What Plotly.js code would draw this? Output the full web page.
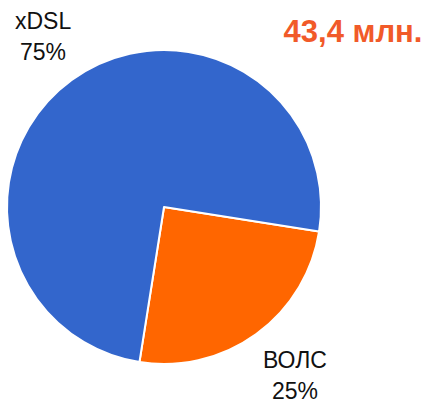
<!DOCTYPE html>
<html>
<head>
<meta charset="utf-8">
<script src="https://cdn.plot.ly/plotly-3.0.1.min.js"></script>
<style>html,body{margin:0;padding:0;background:#fff;}#chart{width:425px;height:403px;}</style>
</head>
<body>
<div id="chart"></div>
<script>
var categories = ['ВОЛС', 'xDSL'];
var shares = [25, 75];
var sliceColors = ['#FF6600', '#3366CC'];
var totalLabel = '43,4 млн.';

var W = 425, H = 403;
var cx = 164, cy = 207, r = 157;

var trace = {
  type: 'pie',
  labels: categories,
  values: shares,
  sort: false,
  direction: 'clockwise',
  rotation: 99,
  marker: {colors: sliceColors, line: {color: '#ffffff', width: 2}},
  textinfo: 'none',
  hoverinfo: 'label+percent',
  showlegend: false,
  domain: {
    x: [(cx - r) / W, (cx + r) / W],
    y: [1 - (cy + r) / H, 1 - (cy - r) / H]
  }
};

var labelFont = {family: 'Liberation Sans, Arial, sans-serif', size: 23, color: '#111111'};
function ann(text, x, y) {
  return {text: text, x: x / W, y: 1 - y / H, xref: 'paper', yref: 'paper',
          xanchor: 'center', yanchor: 'middle', showarrow: false, font: labelFont};
}
var annotations = [
  ann(categories[1], 43, 21),
  ann(shares[1] + '%', 43, 52),
  ann(categories[0], 295, 360),
  ann(shares[0] + '%', 295, 391)
];

var layout = {
  width: W, height: H,
  margin: {l: 0, r: 0, t: 0, b: 0},
  paper_bgcolor: '#ffffff',
  title: {
    text: '<b>' + totalLabel + '</b>',
    x: 353 / W, xanchor: 'center', xref: 'paper',
    y: 1 - 31 / H, yanchor: 'middle', yref: 'container',
    font: {family: 'Liberation Sans, Arial, sans-serif', size: 31, color: '#F15A29'}
  },
  annotations: annotations
};

Plotly.newPlot('chart', [trace], layout, {displayModeBar: false, staticPlot: true});
</script>
</body>
</html>
